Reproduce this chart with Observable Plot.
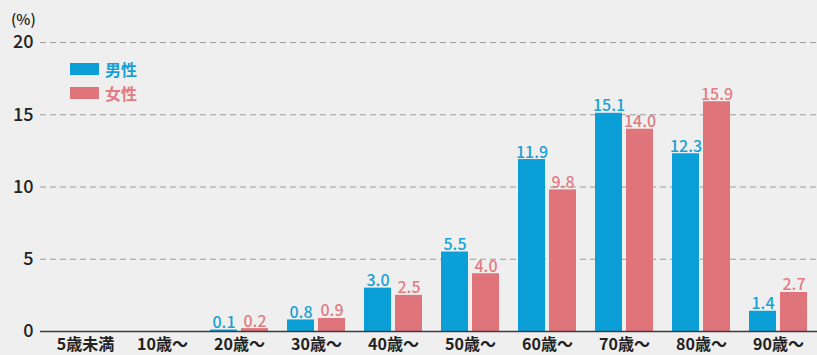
<!DOCTYPE html>
<html>
<head>
<meta charset="utf-8">
<script src="https://cdn.jsdelivr.net/npm/d3@7"></script>
<script src="https://cdn.jsdelivr.net/npm/@observablehq/plot@0.6"></script>
<style>
  body { margin: 0; background: #efefef; font-family: "Noto Sans CJK JP", "Noto Sans", sans-serif; }
  #wrap { position: relative; width: 817px; height: 355px; overflow: hidden; }
  #unit { position: absolute; left: 11px; top: 8px; font-size: 15px; color: #222; font-weight: 500; }
  .key { position: absolute; left: 70px; display: flex; align-items: center; font-size: 16px; font-weight: 700; }
  .key span.sw { display: inline-block; width: 29px; height: 12px; margin-right: 6px; }
</style>
</head>
<body>
<div id="wrap">
  <div id="unit">(%)</div>
</div>
<script>
// Age groups and share (%) by sex
const ages = ["5歳未満", "10歳〜", "20歳〜", "30歳〜", "40歳〜", "50歳〜", "60歳〜", "70歳〜", "80歳〜", "90歳〜"];
const male = [null, null, 0.1, 0.8, 3.0, 5.5, 11.9, 15.1, 12.3, 1.4];
const female = [null, null, 0.2, 0.9, 2.5, 4.0, 9.8, 14.0, 15.9, 2.7];
const sexes = ["男性", "女性"];
const colors = ["#0b9fd7", "#e0747b"];
const labelColors = ["#1aa0d4", "#e27c82"];
const yTicks = [0, 5, 10, 15, 20];

const rows = (key, values) =>
  ages.map((age, i) => ({ age, sex: key, value: values[i] })).filter(d => d.value != null);
const maleRows = rows(sexes[0], male);
const femaleRows = rows(sexes[1], female);

const chart = Plot.plot({
  width: 817,
  height: 355,
  marginTop: 42,
  marginBottom: 24,
  marginLeft: 40,
  marginRight: 0,
  style: { background: "transparent", fontFamily: "'Noto Sans CJK JP', 'Noto Sans', sans-serif", color: "#222" },
  x: { domain: ages, range: [46, 817], paddingInner: 0.25, paddingOuter: 0.125, axis: null },
  y: { domain: [0, 20], axis: null },
  color: { domain: sexes, range: colors },
  marks: [
    Plot.ruleY(yTicks.filter(t => t > 0), { stroke: "#9c9c9c", strokeWidth: 1.2, strokeDasharray: "6,4" }),
    Plot.barY(maleRows, { x: "age", y: "value", fill: "sex", insetRight: 31 }),
    Plot.barY(femaleRows, { x: "age", y: "value", fill: "sex", insetLeft: 31 }),
    Plot.text(maleRows, { x: "age", y: "value", text: d => d.value.toFixed(1), dx: -15.5, dy: -2, lineAnchor: "bottom", fill: labelColors[0], fontSize: 16, fontWeight: 500 }),
    Plot.text(femaleRows, { x: "age", y: "value", text: d => d.value.toFixed(1), dx: 15.5, dy: -2, lineAnchor: "bottom", fill: labelColors[1], fontSize: 16, fontWeight: 500 }),
    Plot.ruleY([0], { stroke: "#3c3c3c", strokeWidth: 1.6 }),
    Plot.axisY({ ticks: yTicks, tickSize: 0, tickPadding: 7, fontSize: 18, fontWeight: 500, label: null }),
    Plot.axisX({ tickSize: 0, tickPadding: 7, fontSize: 16, fontWeight: 600, label: null })
  ]
});

const wrap = document.getElementById("wrap");
wrap.prepend(chart);

// Legend
sexes.forEach((s, i) => {
  const div = document.createElement("div");
  div.className = "key";
  div.style.top = (57 + i * 24) + "px";
  div.style.color = labelColors[i];
  div.innerHTML = `<span class="sw" style="background:${colors[i]}"></span>${s}`;
  wrap.appendChild(div);
});
</script>
</body>
</html>
